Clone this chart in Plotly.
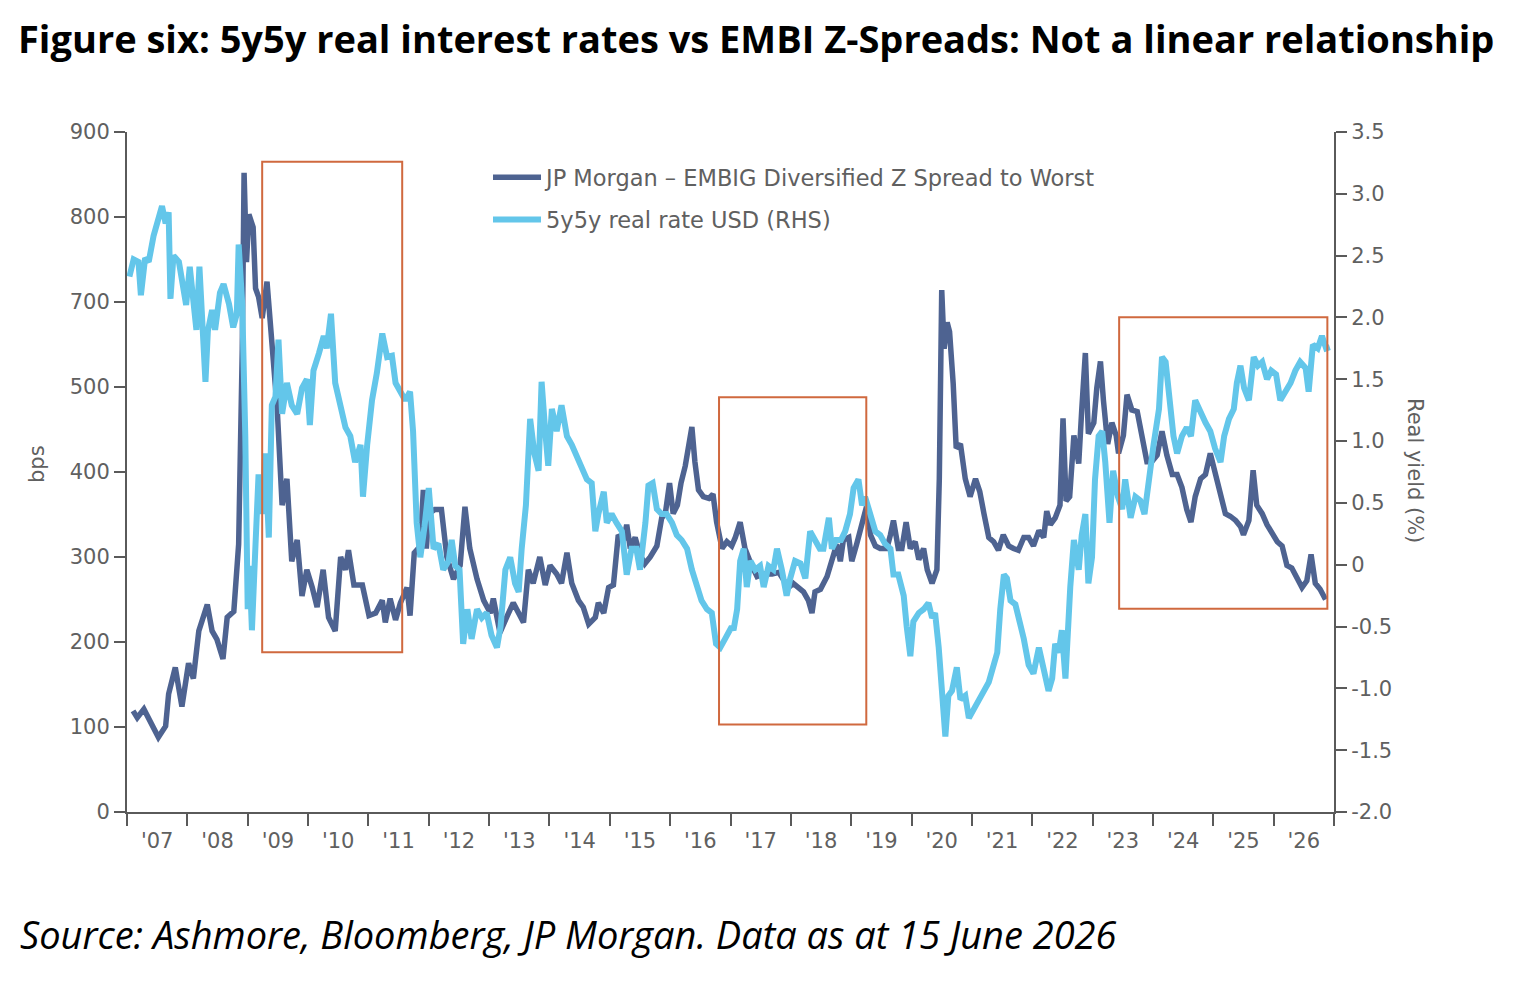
import plotly.graph_objects as go

# ---------------- data ----------------
# EMBI Z-spread, in left-axis units (axis ticks printed as 0..500,700,800,900)
embi_year = [2007.10, 2007.17, 2007.28, 2007.39, 2007.52, 2007.64, 2007.69, 2007.80, 2007.91, 2008.02,
             2008.10, 2008.19, 2008.33, 2008.41, 2008.49, 2008.59, 2008.66, 2008.77, 2008.85, 2008.91,
             2008.94, 2008.98, 2009.02, 2009.09, 2009.13, 2009.18, 2009.24, 2009.32, 2009.40, 2009.49,
             2009.57, 2009.65, 2009.73, 2009.82, 2009.90, 2009.98, 2010.07, 2010.15, 2010.25, 2010.34,
             2010.45, 2010.54, 2010.62, 2010.67, 2010.76, 2010.90, 2011.01, 2011.12, 2011.23, 2011.28,
             2011.36, 2011.45, 2011.53, 2011.64, 2011.69, 2011.76, 2011.86, 2011.91, 2011.96, 2012.00,
             2012.10, 2012.21, 2012.30, 2012.41, 2012.52, 2012.60, 2012.68, 2012.80, 2012.91, 2013.02,
             2013.07, 2013.18, 2013.29, 2013.40, 2013.49, 2013.57, 2013.65, 2013.73, 2013.84, 2013.93,
             2014.01, 2014.12, 2014.20, 2014.29, 2014.37, 2014.48, 2014.56, 2014.65, 2014.76, 2014.81,
             2014.90, 2014.98, 2015.06, 2015.14, 2015.23, 2015.28, 2015.34, 2015.42, 2015.50, 2015.58,
             2015.67, 2015.78, 2015.86, 2015.92, 2015.99, 2016.05, 2016.12, 2016.18, 2016.25, 2016.30,
             2016.36, 2016.41, 2016.47, 2016.55, 2016.64, 2016.71, 2016.77, 2016.86, 2016.94, 2017.02,
             2017.08, 2017.16, 2017.24, 2017.35, 2017.44, 2017.55, 2017.69, 2017.80, 2017.88, 2017.96,
             2018.04, 2018.13, 2018.21, 2018.29, 2018.35, 2018.40, 2018.49, 2018.60, 2018.68, 2018.76,
             2018.82, 2018.87, 2018.96, 2019.01, 2019.09, 2019.18, 2019.26, 2019.32, 2019.40, 2019.48,
             2019.59, 2019.65, 2019.70, 2019.78, 2019.84, 2019.91, 2019.98, 2020.06, 2020.12, 2020.20,
             2020.26, 2020.34, 2020.42, 2020.46, 2020.50, 2020.54, 2020.59, 2020.63, 2020.69, 2020.74,
             2020.81, 2020.89, 2020.97, 2021.06, 2021.13, 2021.20, 2021.28, 2021.36, 2021.44, 2021.52,
             2021.61, 2021.69, 2021.77, 2021.86, 2021.94, 2022.02, 2022.11, 2022.19, 2022.24, 2022.30,
             2022.38, 2022.46, 2022.51, 2022.56, 2022.62, 2022.69, 2022.77, 2022.82, 2022.88, 2022.93,
             2023.02, 2023.07, 2023.13, 2023.18, 2023.25, 2023.32, 2023.39, 2023.43, 2023.51, 2023.57,
             2023.65, 2023.74, 2023.82, 2023.90, 2023.98, 2024.07, 2024.15, 2024.23, 2024.32, 2024.40,
             2024.48, 2024.56, 2024.63, 2024.70, 2024.79, 2024.87, 2024.95, 2025.03, 2025.12, 2025.20,
             2025.28, 2025.37, 2025.45, 2025.50, 2025.59, 2025.66, 2025.72, 2025.81, 2025.89, 2025.97,
             2026.06, 2026.14, 2026.22, 2026.30, 2026.39, 2026.47, 2026.55, 2026.62, 2026.69, 2026.77,
             2026.86]
embi_bps = [119, 111, 121, 106, 88, 101, 139, 170, 124, 175,
            157, 213, 244, 213, 203, 180, 229, 236, 315, 545,
            752, 647, 703, 688, 616, 606, 581, 624, 555, 473,
            361, 392, 295, 320, 254, 285, 264, 241, 285, 229,
            213, 300, 285, 308, 267, 267, 231, 234, 249, 223,
            251, 226, 246, 264, 231, 305, 313, 379, 310, 351,
            356, 356, 300, 274, 290, 359, 310, 274, 249, 234,
            251, 211, 229, 246, 234, 223, 285, 269, 300, 267,
            290, 280, 269, 305, 269, 249, 241, 221, 229, 246,
            234, 264, 267, 326, 320, 338, 310, 323, 303, 292,
            300, 313, 346, 351, 387, 351, 361, 387, 407, 433,
            453, 412, 379, 371, 369, 374, 341, 310, 318, 313,
            323, 341, 310, 290, 277, 280, 280, 282, 272, 264,
            269, 264, 259, 249, 234, 259, 262, 277, 295, 315,
            295, 320, 323, 295, 315, 341, 361, 326, 313, 310,
            310, 326, 343, 310, 310, 341, 310, 318, 297, 310,
            285, 269, 285, 392, 614, 545, 576, 565, 504, 428,
            433, 392, 371, 392, 377, 351, 323, 318, 308, 326,
            313, 310, 308, 323, 323, 313, 331, 323, 354, 338,
            346, 361, 463, 366, 371, 443, 410, 473, 540, 445,
            458, 499, 530, 484, 433, 458, 443, 422, 443, 491,
            473, 471, 438, 412, 412, 420, 448, 420, 397, 397,
            382, 356, 341, 371, 392, 397, 422, 397, 371, 351,
            348, 343, 336, 326, 343, 402, 361, 351, 338, 328,
            318, 313, 290, 287, 274, 264, 272, 303, 269, 262,
            250]

# 5y5y real rate USD, %
real_year = [2007.04, 2007.11, 2007.19, 2007.23, 2007.30, 2007.36, 2007.44, 2007.52, 2007.58, 2007.64,
             2007.69, 2007.72, 2007.77, 2007.86, 2007.91, 2007.98, 2008.04, 2008.10, 2008.15, 2008.20,
             2008.26, 2008.30, 2008.34, 2008.41, 2008.46, 2008.54, 2008.60, 2008.69, 2008.76, 2008.82,
             2008.85, 2008.91, 2008.96, 2009.00, 2009.03, 2009.07, 2009.13, 2009.18, 2009.24, 2009.29,
             2009.35, 2009.40, 2009.46, 2009.51, 2009.57, 2009.65, 2009.73, 2009.82, 2009.90, 2009.98,
             2010.03, 2010.09, 2010.18, 2010.26, 2010.31, 2010.38, 2010.45, 2010.54, 2010.62, 2010.70,
             2010.78, 2010.87, 2010.91, 2010.98, 2011.06, 2011.14, 2011.23, 2011.31, 2011.39, 2011.45,
             2011.53, 2011.61, 2011.69, 2011.74, 2011.80, 2011.86, 2011.93, 2012.00, 2012.08, 2012.16,
             2012.24, 2012.33, 2012.38, 2012.44, 2012.51, 2012.57, 2012.64, 2012.71, 2012.80, 2012.88,
             2012.96, 2013.04, 2013.13, 2013.19, 2013.27, 2013.35, 2013.43, 2013.49, 2013.54, 2013.61,
             2013.68, 2013.75, 2013.82, 2013.87, 2013.93, 2013.98, 2014.04, 2014.12, 2014.20, 2014.29,
             2014.37, 2014.45, 2014.54, 2014.62, 2014.70, 2014.76, 2014.81, 2014.90, 2014.95, 2015.03,
             2015.11, 2015.20, 2015.28, 2015.36, 2015.44, 2015.50, 2015.59, 2015.64, 2015.71, 2015.78,
             2015.86, 2015.94, 2016.03, 2016.11, 2016.19, 2016.28, 2016.36, 2016.44, 2016.52, 2016.61,
             2016.69, 2016.76, 2016.83, 2016.91, 2017.02, 2017.05, 2017.11, 2017.16, 2017.22, 2017.27,
             2017.33, 2017.41, 2017.49, 2017.55, 2017.63, 2017.71, 2017.77, 2017.85, 2017.93, 2017.99,
             2018.07, 2018.16, 2018.24, 2018.32, 2018.40, 2018.48, 2018.54, 2018.63, 2018.68, 2018.75,
             2018.83, 2018.90, 2018.98, 2019.04, 2019.12, 2019.18, 2019.23, 2019.32, 2019.40, 2019.48,
             2019.56, 2019.65, 2019.70, 2019.78, 2019.87, 2019.92, 2019.98, 2020.03, 2020.12, 2020.20,
             2020.28, 2020.34, 2020.39, 2020.45, 2020.49, 2020.53, 2020.56, 2020.61, 2020.67, 2020.75,
             2020.81, 2020.89, 2020.95, 2021.03, 2021.11, 2021.20, 2021.28, 2021.36, 2021.42, 2021.47,
             2021.53, 2021.58, 2021.64, 2021.72, 2021.80, 2021.86, 2021.94, 2022.02, 2022.11, 2022.19,
             2022.27, 2022.33, 2022.38, 2022.44, 2022.49, 2022.55, 2022.59, 2022.63, 2022.69, 2022.77,
             2022.82, 2022.88, 2022.93, 2022.99, 2023.04, 2023.10, 2023.16, 2023.21, 2023.28, 2023.34,
             2023.42, 2023.49, 2023.54, 2023.63, 2023.71, 2023.79, 2023.86, 2023.93, 2024.01, 2024.10,
             2024.15, 2024.21, 2024.28, 2024.34, 2024.40, 2024.48, 2024.56, 2024.63, 2024.70, 2024.79,
             2024.87, 2024.95, 2025.03, 2025.12, 2025.18, 2025.26, 2025.34, 2025.39, 2025.45, 2025.51,
             2025.59, 2025.67, 2025.74, 2025.81, 2025.89, 2025.96, 2026.04, 2026.11, 2026.19, 2026.28,
             2026.36, 2026.44, 2026.53, 2026.58, 2026.65, 2026.73, 2026.80, 2026.87, 2026.93]
real_pct = [2.33, 2.47, 2.45, 2.18, 2.48, 2.45, 2.66, 2.82, 2.90, 2.76,
            2.85, 2.15, 2.50, 2.45, 2.29, 2.10, 2.41, 2.06, 1.90, 2.41,
            1.96, 1.48, 1.89, 2.06, 1.90, 2.20, 2.27, 2.11, 1.92, 2.03,
            2.59, 2.10, 1.04, -0.36, -0.01, -0.53, 0.17, 0.73, 0.41, 0.90,
            0.22, 1.29, 1.36, 1.82, 1.22, 1.47, 1.29, 1.22, 1.43, 1.50,
            1.13, 1.57, 1.71, 1.85, 1.75, 2.03, 1.47, 1.26, 1.11, 1.04,
            0.83, 0.97, 0.55, 0.97, 1.33, 1.55, 1.87, 1.68, 1.69, 1.47,
            1.40, 1.33, 1.40, 1.08, 0.34, 0.06, 0.31, 0.62, 0.13, 0.17,
            -0.04, 0.03, 0.20, -0.01, -0.04, -0.64, -0.36, -0.60, -0.36, -0.43,
            -0.39, -0.57, -0.67, -0.50, -0.04, 0.06, -0.15, -0.22, 0.13, 0.48,
            1.18, 0.90, 0.76, 1.48, 1.08, 0.80, 1.26, 1.08, 1.29, 1.04,
            0.97, 0.87, 0.76, 0.69, 0.66, 0.27, 0.41, 0.59, 0.34, 0.41,
            0.34, 0.27, -0.08, 0.13, 0.13, -0.04, 0.34, 0.64, 0.66, 0.45,
            0.41, 0.41, 0.34, 0.24, 0.20, 0.13, -0.04, -0.18, -0.29, -0.36,
            -0.39, -0.64, -0.67, -0.60, -0.50, -0.53, -0.36, 0.03, 0.13, -0.18,
            0.03, -0.04, -0.01, -0.18, -0.01, -0.04, 0.13, -0.04, -0.25, -0.11,
            0.03, 0.01, -0.11, 0.27, 0.20, 0.13, 0.13, 0.38, 0.13, 0.20,
            0.20, 0.27, 0.41, 0.62, 0.69, 0.48, 0.55, 0.38, 0.27, 0.24,
            0.17, 0.13, -0.08, -0.08, -0.25, -0.50, -0.74, -0.46, -0.39, -0.36,
            -0.31, -0.43, -0.39, -0.67, -0.92, -1.06, -1.39, -1.06, -1.02, -0.83,
            -1.09, -1.06, -1.24, -1.17, -1.09, -1.02, -0.95, -0.81, -0.71, -0.36,
            -0.08, -0.11, -0.29, -0.32, -0.46, -0.60, -0.81, -0.88, -0.67, -0.85,
            -1.02, -0.92, -0.64, -0.71, -0.53, -0.92, -0.39, -0.18, 0.20, -0.04,
            0.24, 0.41, -0.15, 0.06, 0.69, 1.04, 1.08, 0.83, 0.34, 0.76,
            0.55, 0.45, 0.69, 0.38, 0.55, 0.52, 0.41, 0.69, 0.97, 1.26,
            1.68, 1.64, 1.33, 1.04, 0.90, 1.04, 1.11, 1.04, 1.33, 1.22,
            1.15, 1.08, 0.94, 0.83, 1.04, 1.18, 1.26, 1.47, 1.61, 1.43,
            1.33, 1.68, 1.61, 1.64, 1.50, 1.57, 1.54, 1.33, 1.40, 1.47,
            1.57, 1.64, 1.59, 1.40, 1.78, 1.75, 1.85, 1.75, 1.76]

x_years = list(range(2007, 2027))
x_labels = ["'07", "'08", "'09", "'10", "'11", "'12", "'13", "'14", "'15", "'16",
            "'17", "'18", "'19", "'20", "'21", "'22", "'23", "'24", "'25", "'26"]
left_tickvals = [0, 100, 200, 300, 400, 500, 600, 700, 800]
left_ticktext = ["0", "100", "200", "300", "400", "500", "700", "800", "900"]
right_tickvals = [-2.0, -1.5, -1.0, -0.5, 0.0, 0.5, 1.0, 1.5, 2.0, 2.5, 3.0, 3.5]
right_ticktext = ["-2.0", "-1.5", "-1.0", "-0.5", "0", "0.5", "1.0", "1.5", "2.0", "2.5", "3.0", "3.5"]

# highlighted periods: (x0, x1, y0, y1) in x-axis years / left-axis units
highlight_boxes = [(2009.24, 2011.56, 188, 765),
                   (2016.81, 2019.25, 103, 488),
                   (2023.44, 2026.89, 239, 582)]

# ---------------- figure ----------------
DARK = "#4E6391"
LIGHT = "#63C6EA"
AXIS = "#5a5a5a"
TXT = "#606060"
TICKFONT = dict(family="DejaVu Sans", size=21, color=TXT)

fig = go.Figure()
fig.add_trace(go.Scatter(x=real_year, y=real_pct, yaxis="y2", mode="lines",
                         name="5y5y real rate USD (RHS)", legendrank=2, legendgroup="b",
                         line=dict(color=LIGHT, width=6)))
fig.add_trace(go.Scatter(x=embi_year, y=embi_bps, mode="lines",
                         name="JP Morgan \u2013 EMBIG Diversified Z Spread to Worst", legendrank=1,
                         legendgroup="a", line=dict(color=DARK, width=5.5)))

for (x0, x1, y0, y1) in highlight_boxes:
    fig.add_shape(type="rect", xref="x", yref="y", x0=x0, x1=x1, y0=y0, y1=y1,
                  line=dict(color="#D0693F", width=2), fillcolor="rgba(0,0,0,0)")

# page body adds an 8px offset; reference pixel positions are converted below
OFF = 8
W, H = 1517, 965
L, T = 127 - OFF, 132 - OFF
pw, ph = 1207, 680
R, B = W - L - pw, H - T - ph

def px_x(px):
    return (px - OFF - L) / pw

def px_y(py):
    return (T + ph - (py - OFF)) / ph

fig.update_layout(
    width=W, height=H,
    margin=dict(l=L, r=R, t=T, b=B),
    paper_bgcolor="white", plot_bgcolor="white",
    title=dict(text="<b>Figure six: 5y5y real interest rates vs EMBI Z-Spreads: Not a linear relationship</b>",
               xref="container", yref="container", x=(18 - OFF) / W, y=1 - (40 - OFF) / H,
               xanchor="left", yanchor="middle",
               font=dict(family="Open Sans", size=38, color="black")),
    showlegend=True,
    legend=dict(x=px_x(488), y=px_y(156), xanchor="left", yanchor="top",
                font=dict(family="DejaVu Sans", size=22.5, color=TXT),
                bgcolor="rgba(0,0,0,0)", tracegroupgap=10, itemwidth=48,
                traceorder="grouped"),
    xaxis=dict(range=[2007, 2027], tickmode="array",
               tickvals=[y + 0.5 for y in x_years], ticktext=x_labels,
               ticks="", showline=True, linecolor=AXIS, linewidth=2,
               showgrid=False, zeroline=False, tickfont=TICKFONT,
               ticklabelstandoff=9,
               minor=dict(tickmode="array", tickvals=x_years + [2027], ticks="outside",
                          ticklen=12, tickwidth=2, tickcolor=AXIS, showgrid=False)),
    yaxis=dict(range=[0, 800], tickmode="array", tickvals=left_tickvals, ticktext=left_ticktext,
               ticks="outside", ticklen=11, tickwidth=2, tickcolor=AXIS,
               showline=True, linecolor=AXIS, linewidth=2, showgrid=False, zeroline=False,
               tickfont=TICKFONT),
    yaxis2=dict(range=[-2.0, 3.5], overlaying="y", side="right", tickmode="array",
                tickvals=right_tickvals, ticktext=right_ticktext,
                ticks="outside", ticklen=11, tickwidth=2, tickcolor=AXIS,
                showline=True, linecolor=AXIS, linewidth=2, showgrid=False, zeroline=False,
                tickfont=TICKFONT),
)

fig.add_annotation(text="bps", xref="paper", yref="paper", x=px_x(37), y=px_y(464),
                   textangle=-90, showarrow=False, xanchor="center", yanchor="middle",
                   font=dict(family="DejaVu Sans", size=21, color=TXT))
fig.add_annotation(text="Real yield (%)", xref="paper", yref="paper", x=px_x(1415), y=px_y(470),
                   textangle=90, showarrow=False, xanchor="center", yanchor="middle",
                   font=dict(family="DejaVu Sans", size=21, color=TXT))
fig.add_annotation(text="<i>Source: Ashmore, Bloomberg, JP Morgan. Data as at 15 June 2026</i>",
                   xref="paper", yref="paper", x=px_x(18), y=px_y(934),
                   xanchor="left", yanchor="middle", showarrow=False,
                   font=dict(family="Open Sans", size=38, color="black"))

fig.write_html("out.html")
